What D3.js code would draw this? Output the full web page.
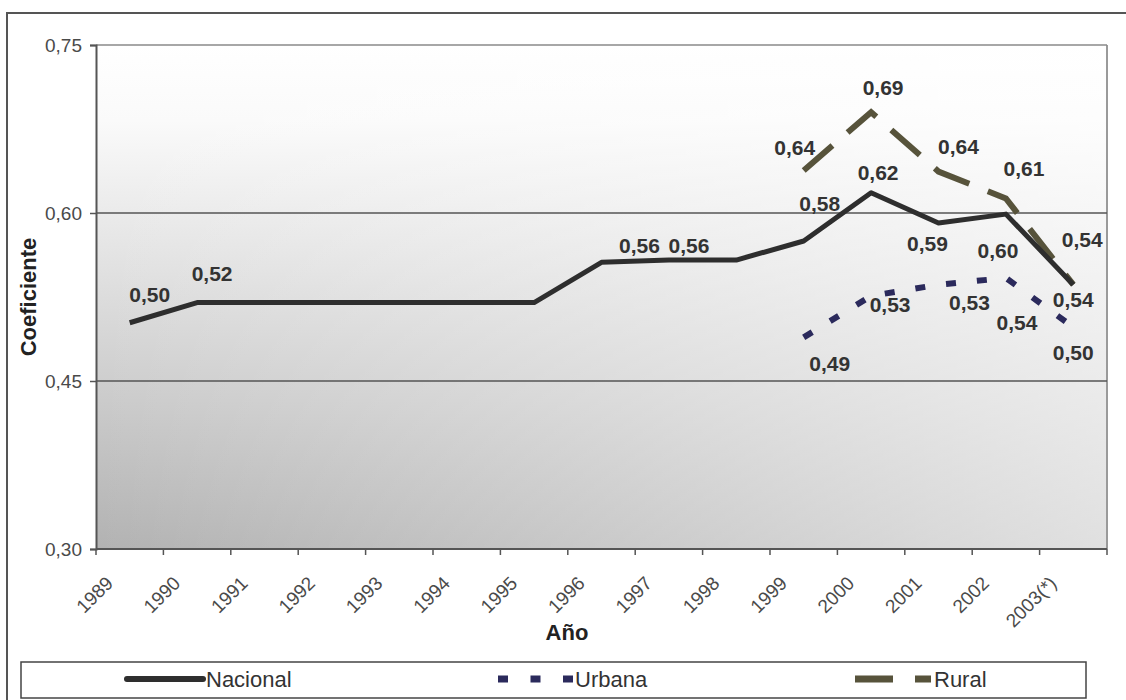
<!DOCTYPE html>
<html><head><meta charset="utf-8">
<script src="https://cdn.jsdelivr.net/npm/d3@7"></script>
<style>body{margin:0;background:#fff}svg{display:block;font-family:"Liberation Sans",Arial,sans-serif}</style>
</head><body><svg id="c" width="1126" height="700"></svg>
<script>
const years = ["1989","1990","1991","1992","1993","1994","1995","1996","1997","1998","1999","2000","2001","2002","2003(*)"];
const nacional = [0.502,0.520,0.520,0.520,0.520,0.520,0.520,0.556,0.558,0.558,0.575,0.618,0.591,0.599,0.536];
const urbana   = [null,null,null,null,null,null,null,null,null,null,0.489,0.526,0.536,0.542,0.498];
const rural    = [null,null,null,null,null,null,null,null,null,null,0.638,0.690,0.637,0.613,0.536];
const nacionalLabels = ["0,50","0,52",null,null,null,null,null,"0,56","0,56",null,"0,58","0,62","0,59","0,60","0,54"];
const urbanaLabels   = [null,null,null,null,null,null,null,null,null,null,"0,49","0,53","0,53","0,54","0,50"];
const ruralLabels    = [null,null,null,null,null,null,null,null,null,null,"0,64","0,69","0,64","0,61","0,54"];
const yTicks = [0.30,0.45,0.60,0.75];
const yTickLabels = ["0,30","0,45","0,60","0,75"];
const seriesNames = ["Nacional","Urbana","Rural"];
// label offsets (px) relative to each point
const nacOff = [[20,-28],[15,-29],null,null,null,null,null,[38,-17],[20,-15],null,[16,-38],[7,-20],[-11,20],[-8,36],[0,15]];
const urbOff = [null,null,null,null,null,null,null,null,null,null,[26,26],[19,9],[31,18],[11,44],[0,25]];
const rurOff = [null,null,null,null,null,null,null,null,null,null,[-9,-23],[12,-25],[20,-25],[18,-30],[9,-45]];

const svg = d3.select("#c");
const L=96,R=1107,T=45,B=549;
const x = d3.scaleBand().domain(years).range([L,R]).padding(0);
const y = d3.scaleLinear().domain([0.30,0.75]).range([B,T]);
const cx = d => x(d)+x.bandwidth()/2;

const defs = svg.append("defs");
const gv = defs.append("linearGradient").attr("id","gv").attr("x1",0).attr("y1",0).attr("x2",0).attr("y2",1);
gv.append("stop").attr("offset","0%").attr("stop-color","#ffffff");
gv.append("stop").attr("offset","15%").attr("stop-color","#fafafa");
gv.append("stop").attr("offset","100%").attr("stop-color","#b2b2b2");
const gh = defs.append("linearGradient").attr("id","gh").attr("x1",0).attr("y1",0).attr("x2",1).attr("y2",0);
gh.append("stop").attr("offset","0%").attr("stop-color","#fff").attr("stop-opacity",0);
gh.append("stop").attr("offset","100%").attr("stop-color","#fff").attr("stop-opacity",0.6);

// outer frame
svg.append("path").attr("d","M7,700V13H1126").attr("fill","none").attr("stroke","#555").attr("stroke-width",2);

// plot background
svg.append("rect").attr("x",L).attr("y",T).attr("width",R-L).attr("height",B-T).attr("fill","url(#gv)");
svg.append("rect").attr("x",L).attr("y",T).attr("width",R-L).attr("height",B-T).attr("fill","url(#gh)");
// right border
svg.append("line").attr("x1",R).attr("x2",R).attr("y1",T).attr("y2",B).attr("stroke","#9a9a9a").attr("stroke-width",2);

// gridlines
svg.append("g").selectAll("line").data(yTicks.slice(1)).join("line")
  .attr("x1",L).attr("x2",R).attr("y1",d=>y(d)).attr("y2",d=>y(d))
  .attr("stroke",(d,i)=> i===2 ? "#8a8a8a" : "#555").attr("stroke-width",1.3);

// y axis
const ya = svg.append("g").attr("transform",`translate(${L},0)`)
  .call(d3.axisLeft(y).tickValues(yTicks).tickFormat((d,i)=>yTickLabels[i]).tickSize(6).tickPadding(8));
ya.select(".domain").attr("stroke","#555").attr("stroke-width",2);
ya.selectAll(".tick line").attr("stroke","#555").attr("stroke-width",1.5);
ya.selectAll("text").attr("font-size",19).attr("fill","#4a4a4a").attr("font-family","Liberation Sans, Arial, sans-serif");

// x axis ticks at band boundaries
const xa = svg.append("g").attr("transform",`translate(0,${B})`);
xa.append("line").attr("x1",L).attr("x2",R).attr("stroke","#555").attr("stroke-width",2);
const bounds = years.map(d=>x(d)).concat([R]);
xa.selectAll("line.t").data(bounds).join("line").attr("class","t")
  .attr("x1",d=>d).attr("x2",d=>d).attr("y1",0).attr("y2",6).attr("stroke","#555").attr("stroke-width",1.5);
xa.selectAll("text").data(years).join("text")
  .attr("transform",d=>`translate(${cx(d)-25},${26}) rotate(-45)`)
  .attr("text-anchor","end").attr("dy","0.7em").attr("font-size",19).attr("fill","#4a4a4a")
  .text(d=>d);

// axis titles
svg.append("text").attr("transform","translate(36,297) rotate(-90)").attr("text-anchor","middle")
  .attr("font-size",22).attr("font-weight","bold").attr("fill","#222").text("Coeficiente");
svg.append("text").attr("x",567).attr("y",640).attr("text-anchor","middle")
  .attr("font-size",22).attr("font-weight","bold").attr("fill","#222").text("Año");

// lines
const line = d3.line().defined(d=>d.v!=null).x(d=>cx(d.k)).y(d=>y(d.v));
const mk = arr => years.map((k,i)=>({k,v:arr[i]}));
svg.append("path").datum(mk(rural)).attr("d",line).attr("fill","none")
  .attr("stroke","#57533b").attr("stroke-width",6).attr("stroke-dasharray","38,20");
svg.append("path").datum(mk(urbana)).attr("d",line).attr("fill","none")
  .attr("stroke","#2b2a5c").attr("stroke-width",6).attr("stroke-dasharray","10,21");
svg.append("path").datum(mk(nacional)).attr("d",line).attr("fill","none")
  .attr("stroke","#2e2e2e").attr("stroke-width",5).attr("stroke-linejoin","round");

// labels
function labels(vals,labs,offs){
  svg.append("g").selectAll("text").data(years.map((k,i)=>({k,v:vals[i],t:labs[i],o:offs[i]})).filter(d=>d.t))
    .join("text").attr("x",d=>cx(d.k)+d.o[0]).attr("y",d=>y(d.v)+d.o[1]).attr("dy","0.36em")
    .attr("text-anchor","middle").attr("font-size",21).attr("font-weight","bold").attr("fill","#333").text(d=>d.t);
}
labels(nacional,nacionalLabels,nacOff);
labels(urbana,urbanaLabels,urbOff);
labels(rural,ruralLabels,rurOff);

// legend
const lg = svg.append("g");
lg.append("rect").attr("x",21).attr("y",662).attr("width",1065).attr("height",36).attr("fill","#fff").attr("stroke","#444").attr("stroke-width",1.5);
const ly = 679;
lg.append("line").attr("x1",127).attr("x2",203).attr("y1",ly).attr("y2",ly).attr("stroke","#2e2e2e").attr("stroke-width",6).attr("stroke-linecap","round");
lg.append("line").attr("x1",498).attr("x2",573).attr("y1",ly).attr("y2",ly).attr("stroke","#2b2a5c").attr("stroke-width",7).attr("stroke-dasharray","10,22.5");
lg.append("line").attr("x1",855).attr("x2",931).attr("y1",ly).attr("y2",ly).attr("stroke","#57533b").attr("stroke-width",7).attr("stroke-dasharray","38,22");
const lx = [206,575,934];
lg.selectAll("text.l").data(seriesNames).join("text").attr("class","l")
  .attr("x",(d,i)=>lx[i]).attr("y",ly).attr("dy","0.36em").attr("font-size",22).attr("fill","#333").text(d=>d);
</script></body></html>
